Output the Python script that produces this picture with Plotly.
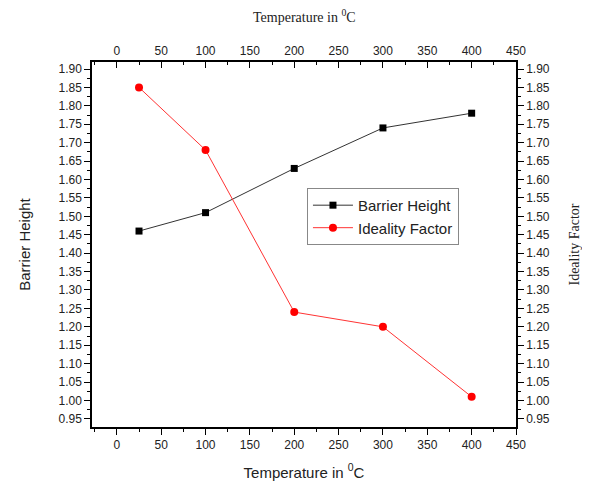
import plotly.graph_objects as go

temps = [25, 100, 200, 300, 400]
barrier_height = [1.46, 1.51, 1.63, 1.74, 1.78]
ideality_factor = [1.85, 1.68, 1.24, 1.20, 1.01]
x_ticks = [0, 50, 100, 150, 200, 250, 300, 350, 400, 450]
y_ticks = [round(0.95 + 0.05 * i, 2) for i in range(20)]

xr = [-28, 450]
yr = [0.928, 1.919]

fig = go.Figure()
fig.add_trace(go.Scatter(x=temps, y=barrier_height, mode="lines+markers", name="Barrier Height",
                         line=dict(color="#333333", width=1),
                         marker=dict(symbol="square", size=7, color="black")))
fig.add_trace(go.Scatter(x=temps, y=ideality_factor, mode="lines+markers", name="Ideality Factor",
                         line=dict(color="#ff3333", width=1),
                         marker=dict(symbol="circle", size=8, color="red")))
# invisible trace to activate secondary axes
fig.add_trace(go.Scatter(x=temps, y=ideality_factor, xaxis="x2", yaxis="y2", mode="markers",
                         marker=dict(opacity=0), showlegend=False, hoverinfo="skip"))

tickfont = dict(family="Liberation Sans, Arial", size=12, color="#222")

fig.update_layout(
    width=582, height=476,
    margin=dict(l=84, r=74, t=54, b=57, autoexpand=False),
    paper_bgcolor="white", plot_bgcolor="white",
    showlegend=True,
    legend=dict(x=0.507, y=0.655, xanchor="left", yanchor="top",
                bordercolor="#888", borderwidth=1, bgcolor="white",
                font=dict(family="Liberation Sans, Arial", size=15, color="#222"),
                itemwidth=40, tracegroupgap=0),
    xaxis=dict(range=xr, tickvals=x_ticks, ticks="outside", ticklen=6, tickcolor="black",
               minor=dict(ticks="outside", ticklen=3, dtick=25, tick0=0, tickcolor="black"),
               showline=True, linecolor="black", linewidth=1.5, showgrid=False, zeroline=False,
               tickfont=tickfont, automargin=False,
               title=dict(text="Temperature in <sup>0</sup>C", standoff=16,
                          font=dict(family="Liberation Sans, Arial", size=15, color="#222"))),
    xaxis2=dict(range=xr, tickvals=x_ticks, overlaying="x", side="top", ticks="inside", ticklen=6,
                tickcolor="black",
                minor=dict(ticks="inside", ticklen=3, dtick=25, tick0=0, tickcolor="black"),
                showline=True, linecolor="black", linewidth=1.5, showgrid=False, zeroline=False,
                tickfont=tickfont, automargin=False),
    yaxis=dict(range=yr, tickvals=y_ticks, tickformat=".2f", ticks="outside", ticklen=6, tickcolor="black",
               minor=dict(ticks="outside", ticklen=3, dtick=0.025, tick0=0.95, tickcolor="black"),
               showline=True, linecolor="black", linewidth=1.5, showgrid=False, zeroline=False,
               tickfont=tickfont, automargin=False,
               title=dict(text="Barrier Height", standoff=24,
                          font=dict(family="Liberation Sans, Arial", size=15, color="#222"))),
    yaxis2=dict(range=yr, tickvals=y_ticks, tickformat=".2f", overlaying="y", side="right",
                ticks="outside", ticklen=6, tickcolor="black",
                minor=dict(ticks="outside", ticklen=3, dtick=0.025, tick0=0.95, tickcolor="black"),
                showline=True, linecolor="black", linewidth=1.5, showgrid=False, zeroline=False,
                tickfont=tickfont, automargin=False,
                title=dict(text="Ideality Factor", standoff=20,
                           font=dict(family="Liberation Serif, Times New Roman", size=14, color="#222"))),
)

fig.add_annotation(text="Temperature in <sup>0</sup>C", xref="paper", yref="paper",
                   x=0.5, y=1.126, xanchor="center", yanchor="middle", showarrow=False,
                   font=dict(family="Liberation Serif, Times New Roman", size=14, color="#222"))

fig.write_html("out.html")
